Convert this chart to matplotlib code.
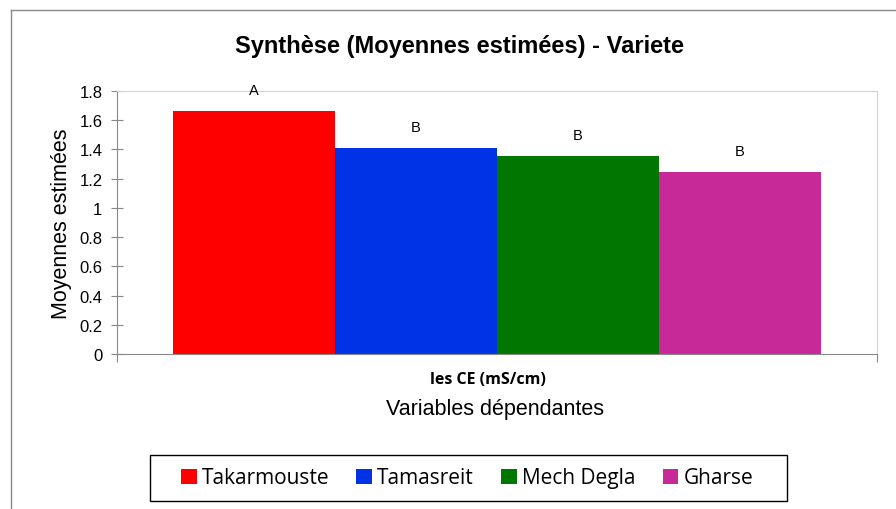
import matplotlib.pyplot as plt
from matplotlib.lines import Line2D
from matplotlib.patches import Patch, Rectangle

varietes = ['Takarmouste', 'Tamasreit', 'Mech Degla', 'Gharse']
moyennes = [1.663, 1.412, 1.355, 1.247]
groupes = ['A', 'B', 'B', 'B']
couleurs = ['#ff0000', '#0033e6', '#007700', '#c72a98']
yticks = [0, 0.2, 0.4, 0.6, 0.8, 1, 1.2, 1.4, 1.6, 1.8]
ytick_labels = ['0', '0.2', '0.4', '0.6', '0.8', '1', '1.2', '1.4', '1.6', '1.8']

plt.rcParams['font.family'] = ['Liberation Sans', 'DejaVu Sans']

fig = plt.figure(figsize=(8.96, 5.10), dpi=100)
ax = fig.add_axes([0.1306, 0.3039, 0.8482, 0.5157])

pos = list(range(len(varietes)))
ax.bar(pos, moyennes, width=1.0, color=couleurs, edgecolor='none')
for x, v, g in zip(pos, moyennes, groupes):
    ax.text(x, v + 0.095, g, ha='center', va='bottom', fontsize=10.5)

ax.set_xlim(-0.846, 3.846)
ax.set_ylim(0, 1.8)
ax.set_yticks(yticks)
ax.set_yticklabels(ytick_labels, fontsize=12)
ax.set_xticks([-0.846, 3.846])
ax.set_xticklabels(['', ''])
ax.tick_params(axis='y', direction='inout', length=9, color='#888888', pad=6)
ax.tick_params(axis='x', direction='out', length=6, color='#888888')

for s in ['left', 'bottom']:
    ax.spines[s].set_color('#888888')
for s in ['top', 'right']:
    ax.spines[s].set_color('#d4d4d4')

ax.set_ylabel('Moyennes estimées', fontsize=15.5, labelpad=5)

fig.text(459.5 / 896, 1 - 46 / 510, 'Synthèse (Moyennes estimées) - Variete',
         ha='center', va='center', fontsize=17, fontweight='bold')

fig.text(488 / 896, 1 - 380 / 510, 'les CE (mS/cm)', ha='center', va='center',
         fontsize=11.5, fontweight='bold', family=['Open Sans', 'DejaVu Sans'])
fig.text(495 / 896, 1 - 410 / 510, 'Variables dépendantes', ha='center',
         va='center', fontsize=15.5)

handles = [Patch(facecolor=c, edgecolor='none') for c in couleurs]
leg = fig.legend(handles, varietes, loc='center', bbox_to_anchor=(467 / 896, 1 - 479 / 510),
                 ncol=4, frameon=False,
                 handlelength=0.75, handleheight=0.75,
                 handletextpad=0.25, columnspacing=1.3, borderpad=0.5,
                 prop={'family': ['Open Sans', 'DejaVu Sans'], 'size': 15})

# cadre de la légende
fig.add_artist(Rectangle((150 / 896, 1 - 502 / 510), 637 / 896, 46 / 510,
                         fill=False, edgecolor='black', lw=1,
                         transform=fig.transFigure))

# bordure du graphique
fig.add_artist(Line2D([11 / 896, 1], [1 - 11 / 510, 1 - 11 / 510],
                      color='#888888', lw=1, transform=fig.transFigure))
fig.add_artist(Line2D([11 / 896, 11 / 896], [0, 1 - 11 / 510],
                      color='#888888', lw=1, transform=fig.transFigure))

fig.savefig('out.png', dpi=100)
